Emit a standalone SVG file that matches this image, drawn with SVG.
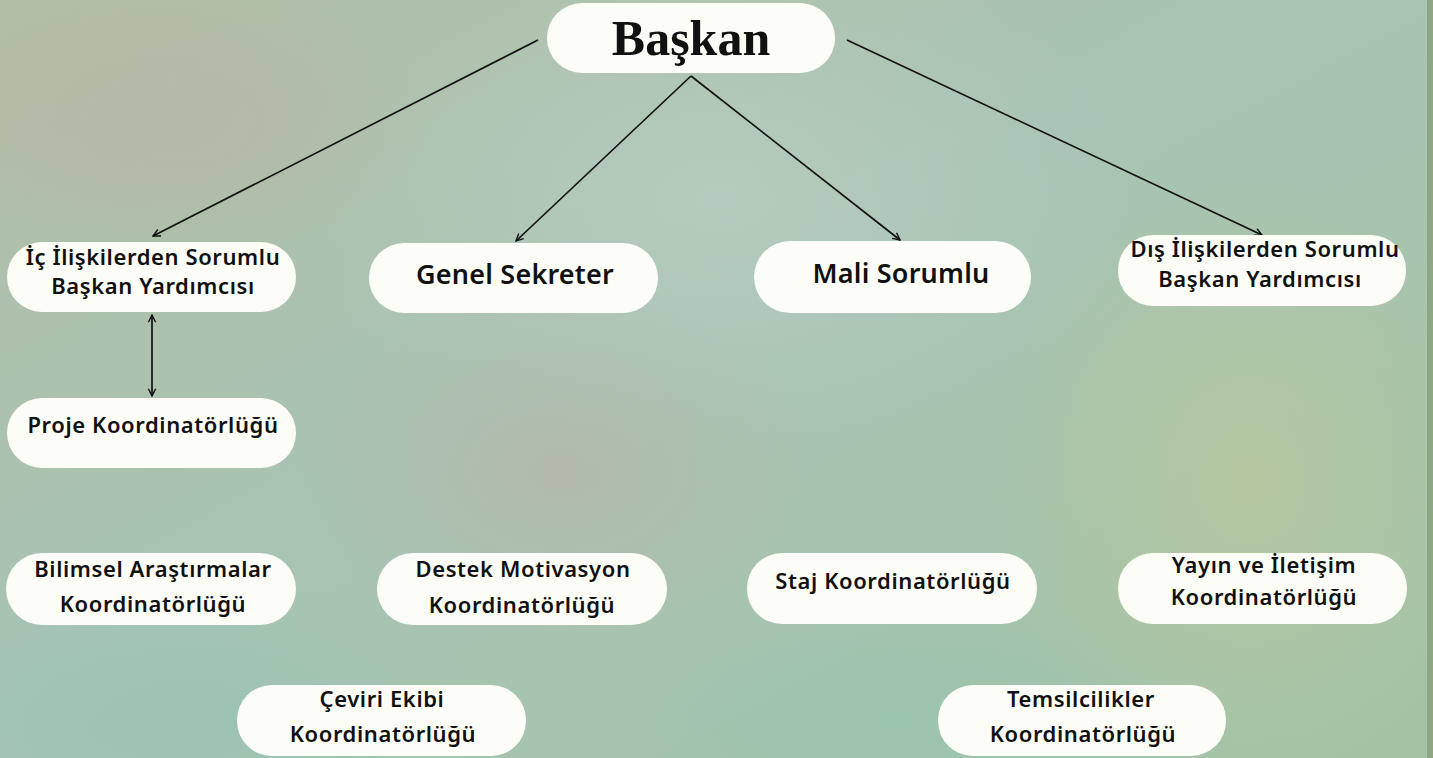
<svg xmlns="http://www.w3.org/2000/svg" width="1433" height="758" viewBox="0 0 1433 758">
<defs>
<linearGradient id="bg" x1="0" y1="0" x2="1" y2="1">
<stop offset="0" stop-color="#b2bea6"/>
<stop offset="0.45" stop-color="#a8c4b3"/>
<stop offset="1" stop-color="#a3c3a6"/>
</linearGradient>
<radialGradient id="g1" cx="0.5" cy="0.5" r="0.5">
<stop offset="0" stop-color="#b8cdbf" stop-opacity="0.8"/>
<stop offset="1" stop-color="#b8cdbf" stop-opacity="0"/>
</radialGradient>
<radialGradient id="g2" cx="0.5" cy="0.5" r="0.5">
<stop offset="0" stop-color="#b9b4a6" stop-opacity="0.6"/>
<stop offset="1" stop-color="#b9b4a6" stop-opacity="0"/>
</radialGradient>
<radialGradient id="g3" cx="0.5" cy="0.5" r="0.5">
<stop offset="0" stop-color="#b8c79d" stop-opacity="0.8"/>
<stop offset="1" stop-color="#b8c79d" stop-opacity="0"/>
</radialGradient>
<radialGradient id="g4" cx="0.5" cy="0.5" r="0.5">
<stop offset="0" stop-color="#98c4b0" stop-opacity="0.8"/>
<stop offset="1" stop-color="#98c4b0" stop-opacity="0"/>
</radialGradient>
<marker id="arr" viewBox="0 0 10 10" refX="9" refY="5" markerWidth="9" markerHeight="9" markerUnits="userSpaceOnUse" orient="auto-start-reverse">
<path d="M1,1 L9,5 L1,9" fill="none" stroke="#111" stroke-width="1.6"/>
</marker>
<style>
.node rect{fill:#fdfdf7;}
.t{font-family:"Noto Sans","DejaVu Sans",sans-serif;font-weight:600;fill:#111;text-anchor:middle;font-size:22px;letter-spacing:0.6px;}
.big{font-size:27px;letter-spacing:0.2px;}
.title{font-family:"Liberation Serif","DejaVu Serif",serif;font-weight:700;font-size:50px;fill:#111;text-anchor:middle;}
.edge{stroke:#111;stroke-width:1.7;fill:none;marker-end:url(#arr);}
</style>
</defs>
<rect width="1433" height="758" fill="url(#bg)"/>
<ellipse cx="720" cy="200" rx="420" ry="260" fill="url(#g1)"/>
<ellipse cx="560" cy="470" rx="260" ry="180" fill="url(#g2)"/>
<ellipse cx="1250" cy="480" rx="260" ry="300" fill="url(#g3)"/>
<ellipse cx="180" cy="720" rx="320" ry="140" fill="url(#g4)"/>
<ellipse cx="900" cy="720" rx="300" ry="120" fill="url(#g4)"/>
<ellipse cx="170" cy="120" rx="260" ry="140" fill="url(#g2)"/>
<rect x="1427" y="0" width="6" height="758" fill="#8ea681"/>

<g id="connectors">
<path class="edge" d="M538,40 L153,236"/>
<path class="edge" d="M691,76 L516,241"/>
<path class="edge" d="M691,76 L900,240"/>
<path class="edge" d="M847,40 L1262,235"/>
<path class="edge" d="M152,315 L152,396" marker-start="url(#arr)"/>
</g>

<g id="baskan" class="node">
<rect x="547" y="3" width="288" height="70" rx="35"/>
<text class="title" x="691" y="55">Başkan</text>
</g>
<g id="ic-iliskiler" class="node">
<rect x="7" y="242" width="289" height="70" rx="35"/>
<text class="t" x="153" y="265">İç İlişkilerden Sorumlu</text>
<text class="t" x="153" y="294">Başkan Yardımcısı</text>
</g>
<g id="genel-sekreter" class="node">
<rect x="369" y="243" width="289" height="70" rx="35"/>
<text class="t big" x="515" y="284">Genel Sekreter</text>
</g>
<g id="mali-sorumlu" class="node">
<rect x="754" y="241" width="277" height="72" rx="36"/>
<text class="t big" x="901" y="283">Mali Sorumlu</text>
</g>
<g id="dis-iliskiler" class="node">
<rect x="1118" y="235" width="288" height="71" rx="35"/>
<text class="t" x="1265" y="257">Dış İlişkilerden Sorumlu</text>
<text class="t" x="1260" y="287">Başkan Yardımcısı</text>
</g>
<g id="proje" class="node">
<rect x="7" y="398" width="289" height="70" rx="35"/>
<text class="t" x="153" y="433">Proje Koordinatörlüğü</text>
</g>
<g id="bilimsel" class="node">
<rect x="6" y="553" width="290" height="72" rx="36"/>
<text class="t" x="153" y="577">Bilimsel Araştırmalar</text>
<text class="t" x="153" y="612">Koordinatörlüğü</text>
</g>
<g id="destek" class="node">
<rect x="377" y="553" width="290" height="72" rx="36"/>
<text class="t" x="523" y="577">Destek Motivasyon</text>
<text class="t" x="522" y="613">Koordinatörlüğü</text>
</g>
<g id="staj" class="node">
<rect x="747" y="553" width="290" height="71" rx="35"/>
<text class="t" x="893" y="589">Staj Koordinatörlüğü</text>
</g>
<g id="yayin" class="node">
<rect x="1118" y="553" width="289" height="71" rx="35"/>
<text class="t" x="1264" y="573">Yayın ve İletişim</text>
<text class="t" x="1264" y="605">Koordinatörlüğü</text>
</g>
<g id="ceviri" class="node">
<rect x="237" y="685" width="289" height="71" rx="35"/>
<text class="t" x="382" y="707">Çeviri Ekibi</text>
<text class="t" x="383" y="742">Koordinatörlüğü</text>
</g>
<g id="temsilcilikler" class="node">
<rect x="938" y="685" width="288" height="71" rx="35"/>
<text class="t" x="1081" y="707">Temsilcilikler</text>
<text class="t" x="1083" y="742">Koordinatörlüğü</text>
</g>
</svg>
